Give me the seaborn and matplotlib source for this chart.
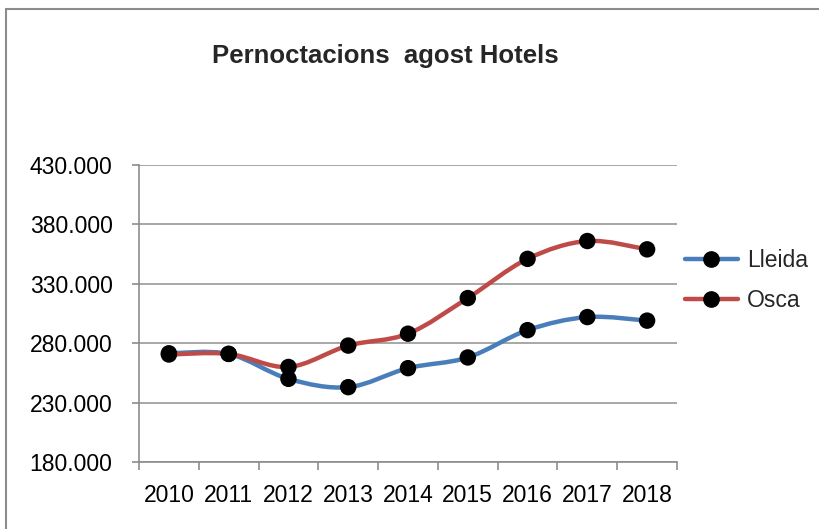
import numpy as np
import pandas as pd
import matplotlib
matplotlib.use("Agg")
import matplotlib.pyplot as plt
import seaborn as sns
from matplotlib.path import Path
from matplotlib.patches import PathPatch, Rectangle
from matplotlib.lines import Line2D
from matplotlib.ticker import FuncFormatter

# ---- data ----
years = ["2010", "2011", "2012", "2013", "2014", "2015", "2016", "2017", "2018"]
lleida = [271500, 271000, 250000, 243000, 259000, 268000, 291000, 302000, 299000]
osca = [270500, 271000, 260000, 278000, 288000, 318000, 351000, 366000, 359000]
yticks = [180000, 230000, 280000, 330000, 380000, 430000]
title = "Pernoctacions  agost Hotels"

colors = {"Lleida": "#4a7ebb", "Osca": "#be4b48"}

sns.set_theme(style="white")
plt.rcParams['font.family'] = ['Liberation Sans', 'DejaVu Sans']

fig = plt.figure(figsize=(8.2, 5.29), dpi=100)
ax = fig.add_axes([139/820, 1-462/529, (677-139)/820, (462-165)/529])

df = pd.DataFrame({
    "x": list(range(len(years))) * 2,
    "value": lleida + osca,
    "series": ["Lleida"] * len(years) + ["Osca"] * len(years),
})


def smooth_path(xs, ys):
    pts = np.column_stack([xs, ys]).astype(float)
    n = len(pts)
    verts = [pts[0]]
    codes = [Path.MOVETO]
    for i in range(n - 1):
        p0 = pts[i - 1] if i > 0 else pts[i]
        p1 = pts[i]
        p2 = pts[i + 1]
        p3 = pts[i + 2] if i + 2 < n else pts[i + 1]
        c1 = p1 + (p2 - p0) / 6
        c2 = p2 - (p3 - p1) / 6
        verts += [c1, c2, p2]
        codes += [Path.CURVE4] * 3
    return Path(verts, codes)


for name in ["Lleida", "Osca"]:
    sub = df[df["series"] == name]
    ax.add_patch(PathPatch(smooth_path(sub["x"].values, sub["value"].values),
                           facecolor="none", edgecolor=colors[name], lw=3.2,
                           capstyle="round", joinstyle="round", zorder=2))

sns.scatterplot(data=df, x="x", y="value", color="black", s=140,
                edgecolor="none", ax=ax, zorder=3, legend=False, clip_on=False)

ax.set_xlim(-0.5, len(years) - 0.5)
ax.set_ylim(yticks[0], yticks[-1])
ax.set_yticks(yticks)
ax.yaxis.set_major_formatter(FuncFormatter(lambda v, p: f"{v:,.0f}".replace(",", ".")))
ax.set_xticks(range(len(years)))
ax.set_xticklabels(years)
ax.set_xticks(np.arange(-0.5, len(years), 1.0), minor=True)
ax.tick_params(axis="x", which="major", length=0, pad=16, labelsize=16.5, colors="black")
ax.tick_params(axis="x", which="minor", length=6, width=1.2, color="#8c8c8c", direction="out", bottom=True)
ax.tick_params(axis="y", length=5, width=1.2, color="#8c8c8c", direction="out", left=True,
               pad=14, labelsize=16.5, labelcolor="black")
ax.set_xlabel("")
ax.set_ylabel("")
ax.grid(axis="y", color="#a0a0a0", lw=1.3)
ax.set_axisbelow(True)
for s in ["top", "right"]:
    ax.spines[s].set_visible(False)
for s in ["left", "bottom"]:
    ax.spines[s].set_color("#8c8c8c")
    ax.spines[s].set_linewidth(1.2)

fig.text(385/820, 1-56/529, title, ha="center", va="center", fontsize=18.5, fontweight="bold")

handles = [Line2D([], [], color=colors[n], lw=3.2, marker="o", ms=11,
                  markerfacecolor="black", markeredgecolor="black") for n in ["Lleida", "Osca"]]
fig.legend(handles, ["Lleida", "Osca"], loc="upper left", bbox_to_anchor=(685/820, 1-249/529),
           frameon=False, fontsize=16.5, handlelength=2.3, handletextpad=0.4,
           labelspacing=0.75, borderpad=0, borderaxespad=0)

fig.add_artist(Rectangle((6/820, -0.05), 1.2, 1 - 9/529 + 0.05, transform=fig.transFigure,
                         fill=False, edgecolor="#8c8c8c", lw=1.5))

fig.savefig("out.png", dpi=100)
